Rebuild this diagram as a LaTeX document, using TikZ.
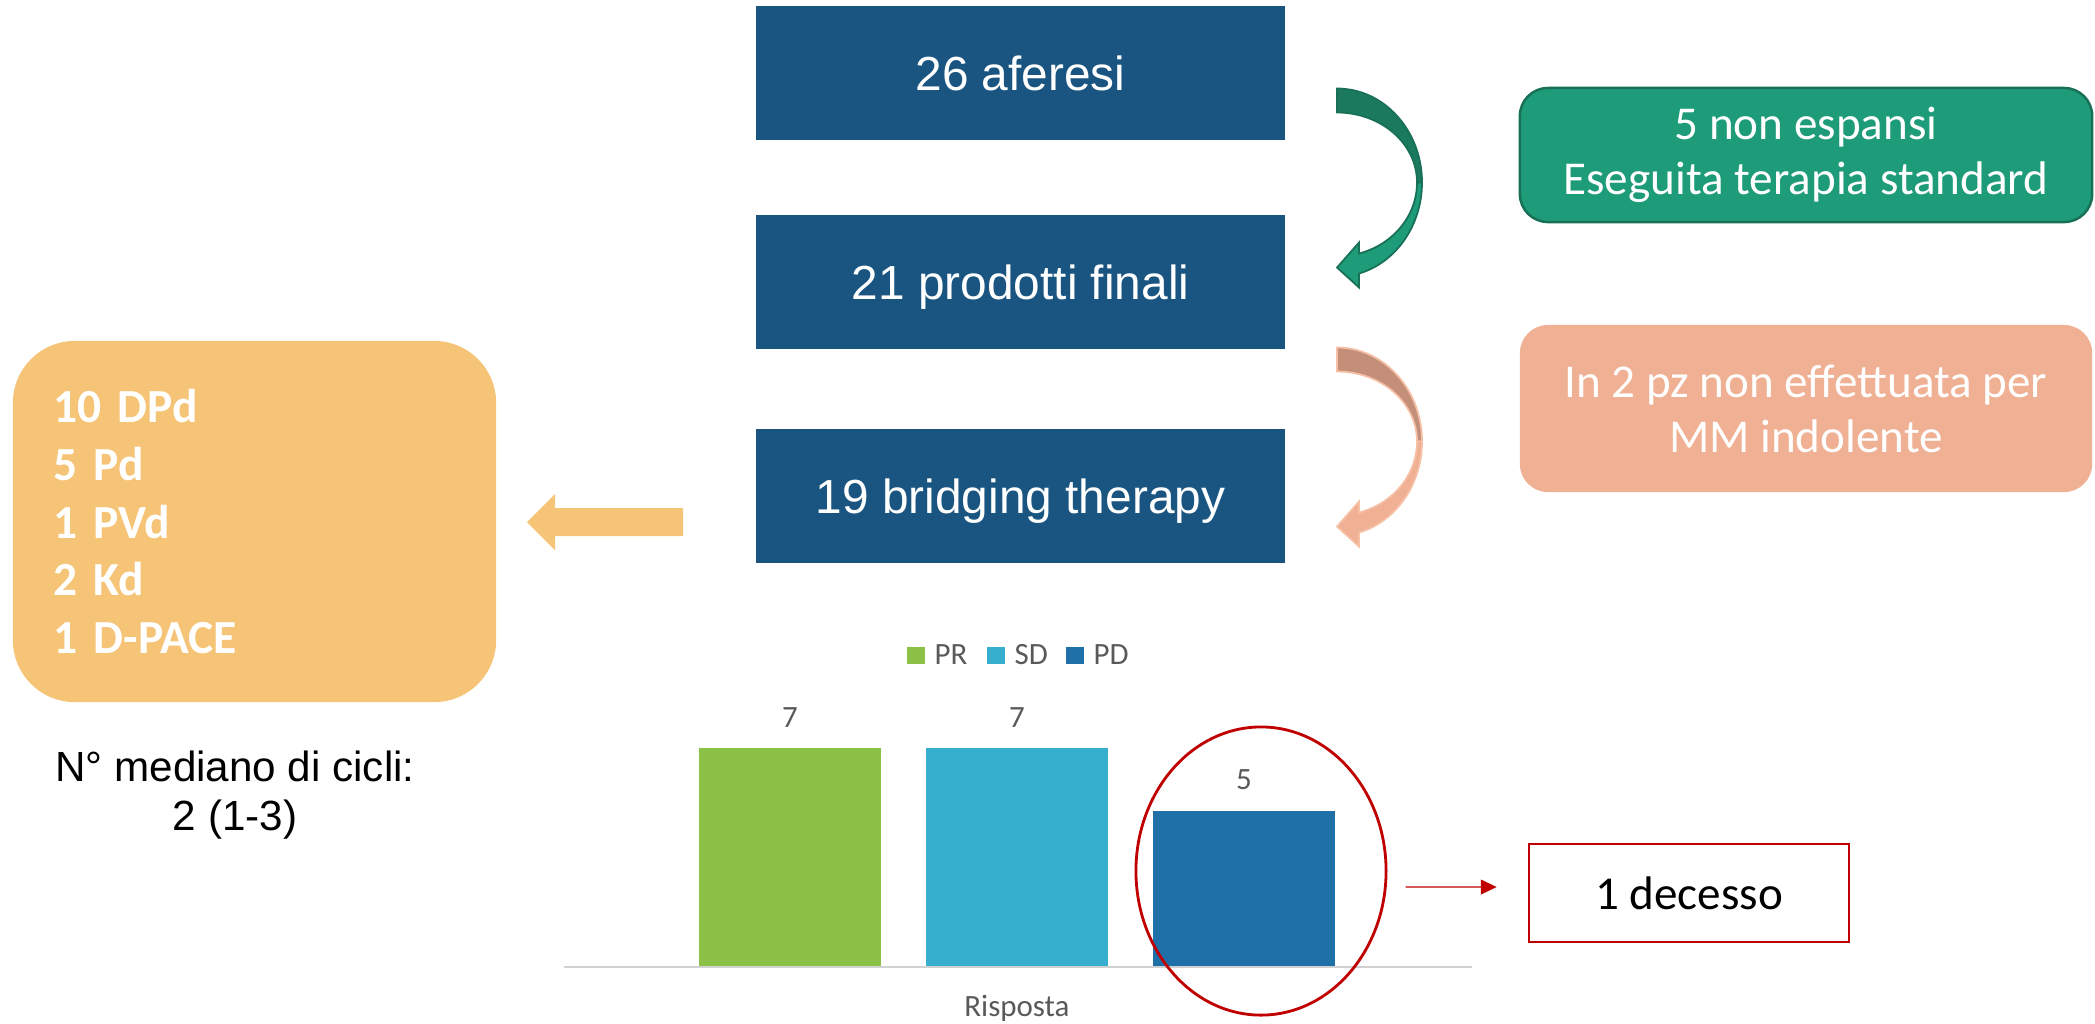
\documentclass[tikz,border=0pt]{standalone}
\usepackage{fontspec}
\setmainfont{Liberation Sans}
\newfontfamily\calibri{Carlito}
\usetikzlibrary{shapes.geometric,arrows.meta}

\definecolor{flowblue}{RGB}{26,85,129}
\definecolor{notegreen}{RGB}{30,155,121}
\definecolor{notegreenedge}{RGB}{24,112,86}
\definecolor{notegreenback}{RGB}{27,122,93}
\definecolor{notesalmon}{RGB}{240,176,148}
\definecolor{notesalmonback}{RGB}{195,143,120}
\definecolor{notesalmonedge}{RGB}{245,192,165}
\definecolor{regorange}{RGB}{246,196,119}
\definecolor{prgreen}{RGB}{140,193,71}
\definecolor{sdcyan}{RGB}{54,174,206}
\definecolor{pdblue}{RGB}{31,111,169}
\definecolor{deathred}{RGB}{192,0,0}
\definecolor{chartgray}{RGB}{89,89,89}

\tikzset{
  bluebox/.style={fill=flowblue, text=white, minimum width=5.29cm, minimum height=1.34cm,
    inner sep=0pt, text height=9.9pt, text depth=0pt, font=\fontsize{13.6}{16}\selectfont},
  notebox/.style={rounded corners=0.28cm, minimum width=5.72cm, minimum height=1.34cm,
    inner sep=0pt, text=white, align=center, font=\calibri\fontsize{13.4}{15.6}\selectfont},
  regimen/.style={fill=regorange, text=white, rounded corners=0.62cm, text width=4.01cm, align=left,
    inner xsep=0.41cm, minimum height=3.61cm, font=\calibri\bfseries\fontsize{13.5}{16.4}\selectfont},
  charttext/.style={text=chartgray, inner sep=0pt, font=\calibri\fontsize{8.8}{10}\selectfont},
  deatharrow/.style={draw=deathred, line width=0.4pt, -{Triangle[length=4.5pt,width=4.2pt]}},
  pics/bendarrow/.style n args={3}{code={
    % back half of the bent arrow
    \filldraw[draw=#3, fill=#1, line width=0.5pt] (0,0) .. controls (47,0) and (85,42) .. (85,94)
      -- (80,94) .. controls (80,55) and (44,24) .. (0,24) -- cycle;
    % front half with the head
    \filldraw[draw=#3, fill=#2, line width=0.5pt] (80,94) .. controls (80,127) and (56.3,156) .. (22,165)
      -- (22,154) -- (0,179) -- (22,199) -- (22,185)
      .. controls (59.2,174) and (85,136.5) .. (85,94) -- cycle;
  }}
}

\begin{document}
\begin{tikzpicture}[x=0.01cm,y=-0.01cm]
\useasboundingbox (0,0) rectangle (2095,1023);
%
\node[bluebox] at (1020.5,73) (apher) {26 aferesi};
\node[bluebox] at (1020.5,282) (prod) {21 prodotti finali};
\node[bluebox] at (1020.5,496) (bridge) {19 bridging therapy};
%
\node[notebox, fill=notegreen, draw=notegreenedge, line width=0.7pt] at (1806,155) (noexp) {5 non espansi\\Eseguita terapia standard};
\node[notebox, fill=notesalmon, minimum height=1.67cm] at (1806,408.5) (indol) {In 2 pz non effettuata per\\MM indolente};
%
\pic at (1337,88.5) {bendarrow={notegreenback}{notegreen}{notegreenedge}};
\pic at (1337,347.5) {bendarrow={notesalmonback}{notesalmon}{notesalmonedge}};
%
\node[regimen] at (254.5,521.5) (regs) {10 DPd\\5 Pd\\1 PVd\\2 Kd\\1 D-PACE};
\fill[regorange] (683,508) -- (555,508) -- (555,494) -- (527,522) -- (555,550) -- (555,536) -- (683,536) -- cycle;
\node[align=center, inner sep=0pt, font=\fontsize{12}{14}\selectfont] at (235,795) (cycles) {N° mediano di cicli:\\2 (1-3)};
%
% response chart
\foreach \xl/\nm/\col in {907/PR/prgreen, 987/SD/sdcyan, 1066/PD/pdblue}{
  \fill[\col] (\xl,647) rectangle +(18,17);
  \node[charttext, anchor=west] at (\xl+27,654.5) (lg\nm) {\nm};
}
\draw[black!18, line width=0.5pt] (564,967) -- (1472,967);
\foreach \xc/\val/\col in {790/7/prgreen, 1017/7/sdcyan, 1244/5/pdblue}{
  \fill[\col] (\xc-91,966) rectangle (\xc+91,966-31.1*\val);
  \node[charttext] at (\xc,935-31.1*\val) (bar\xc) {\val};
}
\node[charttext] at (1017,1008) (axislbl) {Risposta};
%
\node[ellipse, draw=deathred, line width=0.8pt, minimum width=2.5cm, minimum height=2.88cm, inner sep=0pt] at (1261,871) (pdring) {};
\node[draw=deathred, line width=0.7pt, minimum width=3.2cm, minimum height=0.98cm, inner sep=0pt,
  font=\calibri\fontsize{13.4}{16}\selectfont] at (1689,893) (death) {1 decesso};
\draw[deatharrow, shorten >=0.31cm] ([xshift=0.18cm,yshift=-0.16cm]pdring.east) -- ([yshift=0.06cm]death.west);
\end{tikzpicture}
\end{document}
